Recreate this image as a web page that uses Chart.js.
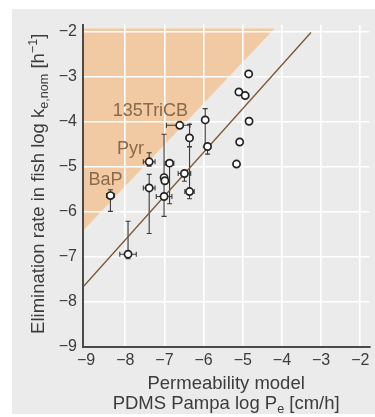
<!DOCTYPE html>
<html>
<head>
<meta charset="utf-8">
<script src="https://cdn.jsdelivr.net/npm/chart.js@4.4.1/dist/chart.umd.min.js"></script>
<style>
  html, body { margin: 0; padding: 0; background: #fff; }
  #panel { position: absolute; left: 12px; top: 9px; width: 363px; height: 405px; background: #eaebea; }
</style>
</head>
<body>
<div id="panel"><canvas id="chart"></canvas></div>
<script>
// Datos (log Pe vs log ke,nom)
const pointX = [-8.38, -7.93, -7.39, -7.39, -7.01, -6.99, -7.01, -6.87, -6.61, -6.49, -6.36, -6.36, -5.96, -5.90, -4.85, -5.10, -4.94, -4.84, -5.08, -5.16];
const pointY = [-5.64, -6.94, -4.89, -5.47, -5.24, -5.31, -5.66, -4.92, -4.08, -5.15, -4.36, -5.55, -3.96, -4.55, -2.94, -3.34, -3.42, -3.99, -4.45, -4.94];
const xErrLow  = [0.10, 0.21, 0.15, 0.15, 0, 0, 0.20, 0.11, 0.34, 0.16, 0, 0.12, 0, 0, 0, 0, 0.05, 0, 0, 0];
const xErrHigh = [0.10, 0.21, 0.15, 0.15, 0, 0, 0.20, 0.11, 0.26, 0.16, 0, 0.12, 0, 0, 0, 0, 0.09, 0, 0, 0];
const yErrLow  = [0.35, 0.10, 0.10, 1.01, 0, 0, 0.44, 0.90, 0, 0.17, 0.20, 0.16, 0.60, 0.17, 0.08, 0.08, 0, 0, 0, 0];
const yErrHigh = [0.13, 0.73, 0.20, 0.30, 0, 0, 1.38, 0.05, 0, 0, 0.30, 1.00, 0.25, 0, 0, 0, 0, 0, 0, 0];

// recta de regresión
const lineX = [-9.08, -3.26];
const lineY = [-7.67, -2.02];

// zona sombreada (triángulo)
const shadeX = [-9.08, -4.19, -9.08];
const shadeY = [-6.42, -1.93, -1.93];

// etiquetas de compuestos
const labelText = ['135TriCB', 'Pyr', 'BaP'];
const labelX = [-8.32, -8.21, -8.94];
const labelY = [-3.88, -4.71, -5.41];

const xTicks = [-9, -8, -7, -6, -5, -4, -3, -2];
const yTicks = [-9, -8, -7, -6, -5, -4, -3, -2];

const FONT = "'Liberation Sans', Arial, sans-serif";
const TEXT = '#3c3c3c';
const minus = v => String(v).replace('-', '\u2212');

Chart.defaults.font.family = FONT;

// sombreado naranja, por debajo de la rejilla
const shadePlugin = {
    id: 'shade',
    beforeDraw(chart) {
        const { ctx, scales: { x, y }, chartArea } = chart;
        ctx.save();
        ctx.beginPath();
        ctx.rect(chartArea.left, chartArea.top, chartArea.width, chartArea.height);
        ctx.clip();
        ctx.beginPath();
        shadeX.forEach((v, i) => {
            const px = x.getPixelForValue(v), py = y.getPixelForValue(shadeY[i]);
            if (i === 0) ctx.moveTo(px, py); else ctx.lineTo(px, py);
        });
        ctx.closePath();
        ctx.fillStyle = '#f1c9a2';
        ctx.fill();
        ctx.restore();
    }
};

// barras de error
const errorPlugin = {
    id: 'errorBars',
    beforeDatasetsDraw(chart) {
        const { ctx, scales: { x, y } } = chart;
        const cap = 2.5;
        ctx.save();
        ctx.strokeStyle = '#3a3a3a';
        ctx.lineWidth = 1.1;
        pointX.forEach((vx, i) => {
            const px = x.getPixelForValue(vx), py = y.getPixelForValue(pointY[i]);
            if (yErrLow[i] || yErrHigh[i]) {
                const top = y.getPixelForValue(pointY[i] + yErrHigh[i]);
                const bot = y.getPixelForValue(pointY[i] - yErrLow[i]);
                ctx.beginPath();
                ctx.moveTo(px, top); ctx.lineTo(px, bot);
                if (yErrHigh[i]) { ctx.moveTo(px - cap, top); ctx.lineTo(px + cap, top); }
                if (yErrLow[i]) { ctx.moveTo(px - cap, bot); ctx.lineTo(px + cap, bot); }
                ctx.stroke();
            }
            if (xErrLow[i] || xErrHigh[i]) {
                const l = x.getPixelForValue(vx - xErrLow[i]);
                const r = x.getPixelForValue(vx + xErrHigh[i]);
                ctx.beginPath();
                ctx.moveTo(l, py); ctx.lineTo(r, py);
                if (xErrLow[i]) { ctx.moveTo(l, py - cap); ctx.lineTo(l, py + cap); }
                if (xErrHigh[i]) { ctx.moveTo(r, py - cap); ctx.lineTo(r, py + cap); }
                ctx.stroke();
            }
        });
        ctx.restore();
    }
};

// texto con subíndices / superíndices
function richWidth(ctx, parts, size) {
    let w = 0;
    parts.forEach(p => {
        ctx.font = (p.sub || p.sup ? size * 0.68 : size) + 'px ' + FONT;
        w += ctx.measureText(p.t).width;
    });
    return w;
}
function drawRich(ctx, parts, cx, baseline, size) {
    let x0 = cx - richWidth(ctx, parts, size) / 2;
    parts.forEach(p => {
        const s = p.sub || p.sup ? size * 0.68 : size;
        ctx.font = s + 'px ' + FONT;
        const dy = p.sub ? size * 0.22 : p.sup ? -size * 0.38 : 0;
        ctx.fillText(p.t, x0, baseline + dy);
        x0 += ctx.measureText(p.t).width;
    });
}

const textPlugin = {
    id: 'texts',
    afterDatasetsDraw(chart) {
        const { ctx, scales: { x, y } } = chart;
        ctx.save();
        ctx.fillStyle = '#8a6a4a';
        ctx.font = '18px ' + FONT;
        ctx.textAlign = 'left';
        ctx.textBaseline = 'alphabetic';
        labelText.forEach((t, i) => {
            ctx.fillText(t, x.getPixelForValue(labelX[i]), y.getPixelForValue(labelY[i]));
        });
        ctx.restore();
    },
    afterDraw(chart) {
        const { ctx, chartArea } = chart;
        const cx = (chartArea.left + chartArea.right) / 2;
        ctx.save();
        ctx.fillStyle = TEXT;
        ctx.textAlign = 'left';
        ctx.textBaseline = 'alphabetic';
        drawRich(ctx, [{ t: 'Permeability model' }], cx, 380, 18.5);
        drawRich(ctx, [{ t: 'PDMS Pampa log P' }, { t: 'e', sub: true }, { t: ' [cm/h]' }], cx, 400, 18.5);
        ctx.translate(32, (chartArea.top + chartArea.bottom) / 2 - 2);
        ctx.rotate(-Math.PI / 2);
        drawRich(ctx, [
            { t: 'Elimination rate in fish log k' }, { t: 'e,nom', sub: true },
            { t: ' [h' }, { t: '\u22121', sup: true }, { t: ']' }
        ], 0, 0, 18.5);
        ctx.restore();
    }
};

new Chart(document.getElementById('chart'), {
    type: 'scatter',
    data: {
        datasets: [{
            label: 'Regresión',
            data: lineX.map((v, i) => ({ x: v, y: lineY[i] })),
            showLine: true,
            borderColor: '#7b5634',
            borderWidth: 1.3,
            pointRadius: 0,
            order: 2
        }, {
            label: 'Compuestos',
            data: pointX.map((v, i) => ({ x: v, y: pointY[i] })),
            pointRadius: 3.6,
            pointBorderWidth: 1.7,
            backgroundColor: '#fff',
            borderColor: '#222',
            order: 1
        }]
    },
    options: {
        responsive: true,
        maintainAspectRatio: false,
        animation: false,
        layout: { padding: { top: 14, right: 2, left: 0, bottom: 0 } },
        plugins: { legend: { display: false }, tooltip: { enabled: false } },
        scales: {
            x: {
                type: 'linear',
                min: -9.08,
                max: -1.77,
                afterFit: s => { s.height = 67; },
                afterBuildTicks: s => { s.ticks = xTicks.map(v => ({ value: v })); },
                border: { color: '#4a4a4a', width: 2 },
                grid: {
                    color: c => c.tick && c.tick.value === -9 ? 'rgba(0,0,0,0)' : '#ffffff',
                    lineWidth: 1.6,
                    drawTicks: false
                },
                ticks: { color: TEXT, font: { size: 16 }, padding: 4, callback: minus }
            },
            y: {
                type: 'linear',
                min: -9,
                max: -1.845,
                afterFit: s => { s.width = 71; },
                afterBuildTicks: s => { s.ticks = yTicks.map(v => ({ value: v })); },
                border: { color: '#4a4a4a', width: 2 },
                grid: { color: '#ffffff', lineWidth: 1.6, drawTicks: false },
                ticks: { color: TEXT, font: { size: 16 }, padding: 6, callback: minus }
            }
        }
    },
    plugins: [shadePlugin, errorPlugin, textPlugin]
});
</script>
</body>
</html>
